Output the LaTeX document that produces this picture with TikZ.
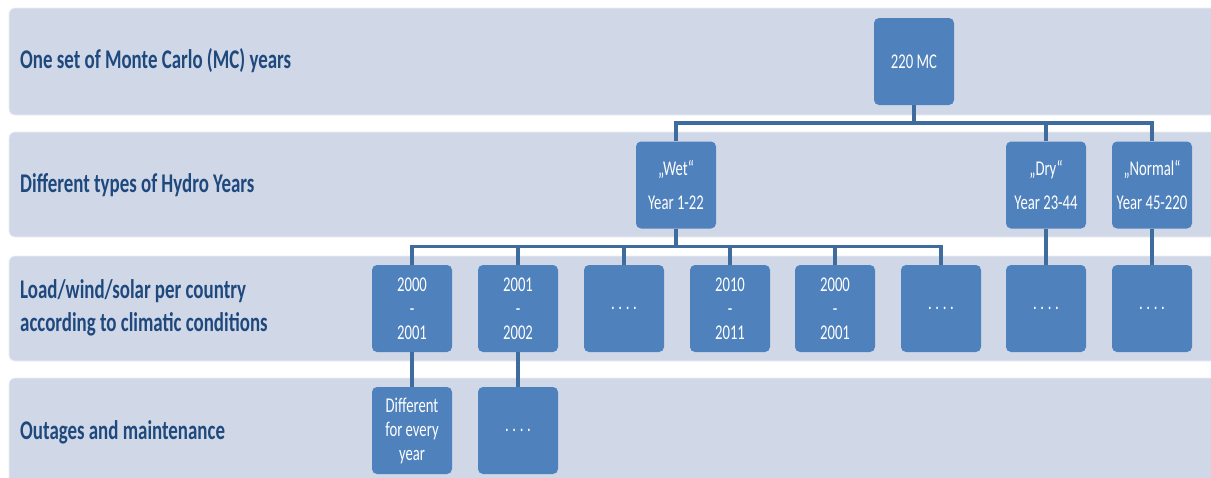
\documentclass[tikz,border=0pt]{standalone}
\usepackage{fontspec}
\setmainfont{Carlito}[FakeStretch=0.7]
\usetikzlibrary{calc}
\definecolor{bandfill}{HTML}{D0D8E8}
\definecolor{boxfill}{HTML}{4F81BD}
\definecolor{wire}{HTML}{3F6C9E}
\definecolor{labeltext}{HTML}{1F497D}
% widely spaced four-dot placeholder
\newcommand{\moredots}{.\kern3.6pt.\kern3.6pt.\kern3.6pt.}

\begin{document}
\begin{tikzpicture}[x=1pt,y=-1pt,
  band/.style={fill=bandfill, draw=white!55!bandfill, line width=0.8pt, rounded corners=6pt},
  rowlabel/.style={anchor=west, text=labeltext, font=\fontsize{27}{33}\selectfont\bfseries, align=left, inner sep=0pt},
  yearbox/.style={fill=boxfill, draw=none, rounded corners=5pt, minimum width=80pt, minimum height=87pt,
    text=white, font=\fontsize{21}{24}\selectfont, align=center, inner sep=0pt},
  conn/.style={draw=wire, line width=3.5pt}
]
\useasboundingbox (0,0) rectangle (1211,477);

% horizontal bands, one per level
\path[band] (9,8) rectangle (1230,115);
\path[band] (9,132) rectangle (1230,237);
\path[band] (9,256) rectangle (1230,361);
\path[band] (9,378) rectangle (1230,495);

% level labels
\node[rowlabel] (l1) at (20,61) {One set of Monte Carlo (MC) years};
\node[rowlabel] (l2) at (20,185) {Different types of Hydro Years};
\node[rowlabel] (l3) at (20,308) {Load/wind/solar per country\\according to climatic conditions};
\node[rowlabel] (l4) at (20,432) {Outages and maintenance};

% level 1
\node[yearbox] (mc) at (914,61.5) {220 MC};

% level 2: hydro years
\node[yearbox] (wet) at (676,185) {„Wet“\\[11pt]Year 1-22};
\node[yearbox] (dry) at (1046,185) {„Dry“\\[11pt]Year 23-44};
\node[yearbox] (normal) at (1152,185) {„Normal“\\[11pt]Year 45-220};

% level 3: climatic years
\node[yearbox] (c1) at (412,308.5) {2000\\-\\2001};
\node[yearbox] (c2) at (518,308.5) {2001\\-\\2002};
\node[yearbox] (c3) at (624,308.5) {\moredots};
\node[yearbox] (c4) at (730,308.5) {2010\\-\\2011};
\node[yearbox] (c5) at (835,308.5) {2000\\-\\2001};
\node[yearbox] (c6) at (941,308.5) {\moredots};
\node[yearbox] (c7) at (1046,308.5) {\moredots};
\node[yearbox] (c8) at (1152,308.5) {\moredots};

% level 4: outages
\node[yearbox] (o1) at (412,430.5) {Different\\for every\\year};
\node[yearbox] (o2) at (518,430.5) {\moredots};

% connectors
\foreach \t in {wet,dry,normal}
  \draw[conn] (mc.south) -- ++(0,18) -| (\t.north);
\foreach \t in {c1,c2,c3,c4,c5,c6}
  \draw[conn] (wet.south) -- ++(0,18) -| (\t.north);
\draw[conn] (dry.south) -- (c7.north);
\draw[conn] (normal.south) -- (c8.north);
\draw[conn] (c1.south) -- (o1.north);
\draw[conn] (c2.south) -- (o2.north);
\end{tikzpicture}
\end{document}
